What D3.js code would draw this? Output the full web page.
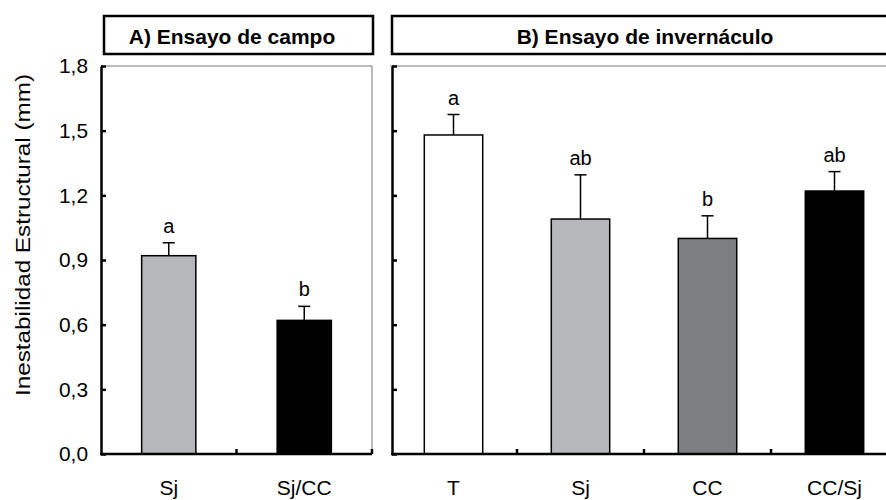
<!DOCTYPE html>
<html>
<head>
<meta charset="utf-8">
<script src="https://cdn.jsdelivr.net/npm/d3@7"></script>
<style>
html, body { margin: 0; padding: 0; background: #fff; }
svg { display: block; font-family: "Liberation Sans", Arial, sans-serif; }
</style>
</head>
<body>
<svg id="chart" width="886" height="500"></svg>
<script>
// Data
const campoCategories = ["Sj", "Sj/CC"];
const campoValues = [0.92, 0.62];
const campoErrors = [0.06, 0.065];
const campoLetters = ["a", "b"];

const invCategories = ["T", "Sj", "CC", "CC/Sj"];
const invValues = [1.48, 1.09, 1.00, 1.22];
const invErrors = [0.095, 0.205, 0.105, 0.09];
const invLetters = ["a", "ab", "b", "ab"];

const yTicks = [0, 0.3, 0.6, 0.9, 1.2, 1.5, 1.8];
const tickLabels = ["0,0", "0,3", "0,6", "0,9", "1,2", "1,5", "1,8"];
const campoColors = ["#b6b7ba", "#000000"];
const invColors = ["#ffffff", "#b6b7ba", "#7d7e82", "#000000"];

const svg = d3.select("#chart");
const y = d3.scaleLinear().domain([0, 1.8]).range([454, 66]);

function panel(opts) {
  const g = svg.append("g");
  const x = d3.scaleBand().domain(opts.categories).range([opts.x0, opts.x1])
    .paddingInner(opts.pad).paddingOuter(opts.pad / 2);

  // title box
  g.append("rect").attr("x", opts.boxX0).attr("y", 16)
    .attr("width", opts.boxX1 - opts.boxX0).attr("height", 38)
    .attr("fill", "#fff").attr("stroke", "#000").attr("stroke-width", 2.5);
  g.append("text").attr("x", opts.titleX).attr("y", 44)
    .attr("text-anchor", "middle").attr("font-weight", "bold").attr("font-size", 21)
    .text(opts.title);

  // frame top/right thin gray
  g.append("line").attr("x1", opts.x0).attr("x2", opts.x1).attr("y1", y(1.8)).attr("y2", y(1.8))
    .attr("stroke", "#777").attr("stroke-width", 1);
  g.append("line").attr("x1", opts.x1).attr("x2", opts.x1).attr("y1", y(1.8)).attr("y2", y(0))
    .attr("stroke", "#777").attr("stroke-width", 1);

  // bars
  g.selectAll("rect.bar").data(opts.categories).join("rect")
    .attr("class", "bar")
    .attr("x", d => x(d)).attr("width", x.bandwidth())
    .attr("y", (d, i) => y(opts.values[i]))
    .attr("height", (d, i) => y(0) - y(opts.values[i]))
    .attr("fill", (d, i) => opts.colors[i])
    .attr("stroke", "#000").attr("stroke-width", 1.5);

  // error bars, letters, category labels
  opts.categories.forEach((d, i) => {
    const cx = x(d) + x.bandwidth() / 2;
    const top = y(opts.values[i] + opts.errors[i]);
    g.append("line").attr("x1", cx).attr("x2", cx)
      .attr("y1", y(opts.values[i])).attr("y2", top)
      .attr("stroke", "#000").attr("stroke-width", 1.5);
    g.append("line").attr("x1", cx - 6).attr("x2", cx + 6)
      .attr("y1", top).attr("y2", top)
      .attr("stroke", "#000").attr("stroke-width", 1.5);
    g.append("text").attr("x", cx).attr("y", top - 10)
      .attr("text-anchor", "middle").attr("font-size", 20)
      .text(opts.letters[i]);
    g.append("text").attr("x", cx).attr("y", 495)
      .attr("text-anchor", "middle").attr("font-size", 21)
      .text(d);
  });

  // y axis
  const yAxis = d3.axisLeft(y).tickValues(yTicks)
    .tickSizeInner(-5).tickSizeOuter(0).tickPadding(13)
    .tickFormat((d, i) => opts.labels ? tickLabels[i] : "");
  const ya = g.append("g").attr("transform", `translate(${opts.yAxisX},0)`).call(yAxis);
  ya.select(".domain").attr("stroke-width", 2.5);
  ya.selectAll(".tick line").attr("stroke-width", 2.5);
  ya.selectAll(".tick text").attr("font-size", 21).attr("fill", "#000")
    .attr("font-family", "Liberation Sans, Arial, sans-serif")
    .attr("textLength", 29).attr("lengthAdjust", "spacingAndGlyphs");

  // x axis baseline
  g.append("line").attr("x1", opts.yAxisX - 1).attr("x2", opts.x1)
    .attr("y1", y(0)).attr("y2", y(0))
    .attr("stroke", "#000").attr("stroke-width", 2.5);
  // x ticks at band boundaries (inward)
  const bounds = opts.categories.slice(1).map(d => x(d) - x.step() * x.paddingInner() / 2);
  bounds.push(opts.x1);
  g.selectAll("line.xt").data(bounds).join("line").attr("class", "xt")
    .attr("x1", d => d).attr("x2", d => d)
    .attr("y1", y(0)).attr("y2", y(0) - 5)
    .attr("stroke", "#000").attr("stroke-width", 2.5);
}

panel({
  categories: campoCategories, values: campoValues, errors: campoErrors,
  letters: campoLetters, colors: campoColors,
  x0: 101, x1: 372, yAxisX: 101, pad: 0.6,
  boxX0: 104, boxX1: 373, titleX: 232, title: "A) Ensayo de campo", labels: true
});
panel({
  categories: invCategories, values: invValues, errors: invErrors,
  letters: invLetters, colors: invColors,
  x0: 390, x1: 898, yAxisX: 392, pad: 0.54,
  boxX0: 392, boxX1: 900, titleX: 645, title: "B) Ensayo de invernáculo", labels: false
});

// y axis title
svg.append("text")
  .attr("transform", "translate(30,235) rotate(-90)")
  .attr("text-anchor", "middle").attr("font-size", 21)
  .attr("textLength", 322).attr("lengthAdjust", "spacingAndGlyphs")
  .text("Inestabilidad Estructural (mm)");
</script>
</body>
</html>
